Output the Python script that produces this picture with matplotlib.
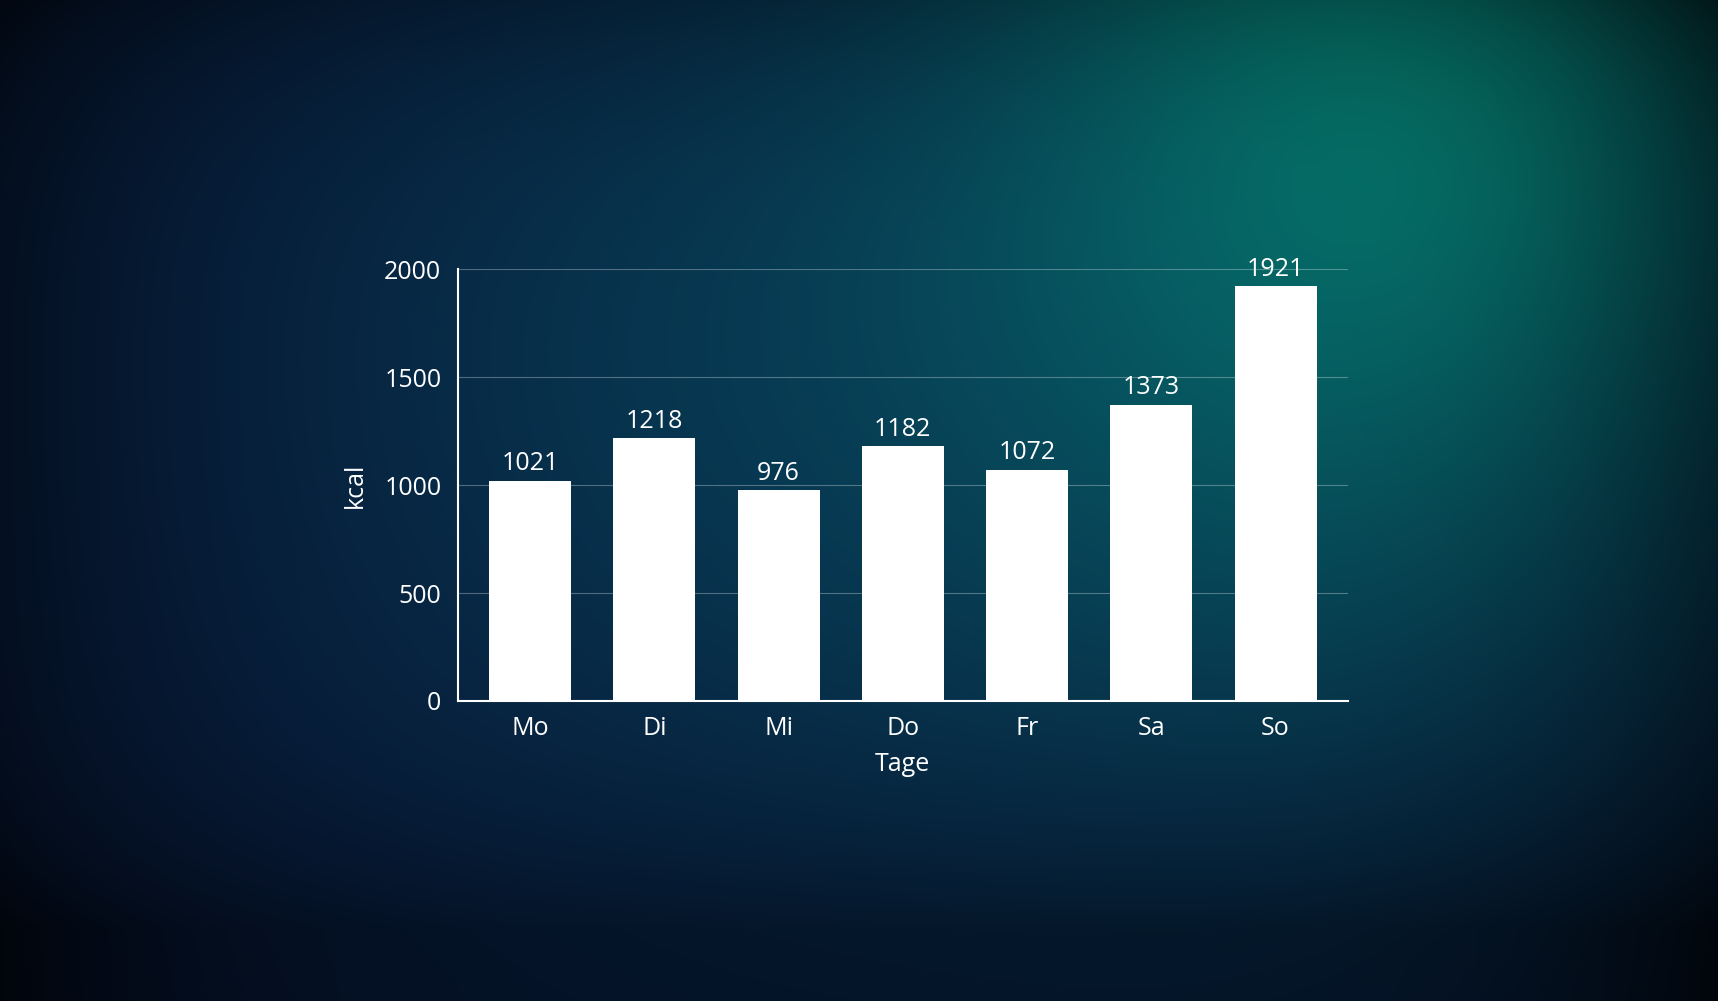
import numpy as np
import matplotlib
matplotlib.use("Agg")
import matplotlib.pyplot as plt

days = ["Mo", "Di", "Mi", "Do", "Fr", "Sa", "So"]
kcal = [1021, 1218, 976, 1182, 1072, 1373, 1921]
yticks = [0, 500, 1000, 1500, 2000]

plt.rcParams['font.family'] = ['Open Sans', 'DejaVu Sans']
fig = plt.figure(figsize=(17.18, 10.01), dpi=100)

# background gradient
H, W = 500, 860
yy, xx = np.mgrid[0:H, 0:W]
xn, yn = xx / W, yy / H
base = np.array([0.03, 0.09, 0.22])
teal = np.array([0.02, 0.50, 0.45])
mid = np.array([0.03, 0.27, 0.36])
g1 = np.exp(-(((xn - 0.83) / 0.24) ** 2 + ((yn - 0.05) / 0.5) ** 2))
g2 = np.exp(-(((xn - 0.6) / 0.45) ** 2 + ((yn - 0.35) / 0.55) ** 2))
img = base[None, None, :] * np.ones((H, W, 1))
img = img + (mid - base)[None, None, :] * g2[..., None] * 0.8
img = img + (teal - img) * g1[..., None] * 0.95
vig = 1 - 0.45 * (np.clip(np.abs(xn - 0.5) * 2, 0, 1) ** 4) - 0.35 * (np.clip(np.abs(yn - 0.45) * 2.1, 0, 1) ** 4)
img = img * vig[..., None]
bg = fig.add_axes([0, 0, 1, 1])
bg.imshow(np.clip(img, 0, 1), aspect='auto', extent=[0, 1, 0, 1])
bg.axis('off')

ax = fig.add_axes([0.2666, 0.2998, 0.5178, 0.4311])
ax.set_facecolor('none')
x = np.arange(len(days))
ax.bar(x, kcal, width=0.66, color='white', zorder=3)
for xi, v in zip(x, kcal):
    ax.text(xi, v + 20, str(v), ha='center', va='bottom', color='white', fontsize=18)
ax.set_xlim(-0.58, 6.58)
ax.set_ylim(0, 2000)
ax.set_yticks(yticks)
ax.set_xticks(x)
ax.set_xticklabels(days)
ax.tick_params(colors='white', labelsize=18, length=0)
ax.tick_params(axis='x', pad=11)
ax.tick_params(axis='y', pad=12)
ax.grid(axis='y', color='white', alpha=0.3, linewidth=0.8, zorder=0)
for s in ['top', 'right']:
    ax.spines[s].set_visible(False)
for s in ['left', 'bottom']:
    ax.spines[s].set_color('white')
    ax.spines[s].set_linewidth(1.5)
ax.set_xlabel("Tage", color='white', fontsize=18, labelpad=8)
ax.set_ylabel("kcal", color='white', fontsize=18, labelpad=12)
fig.savefig("out.png", dpi=100)
